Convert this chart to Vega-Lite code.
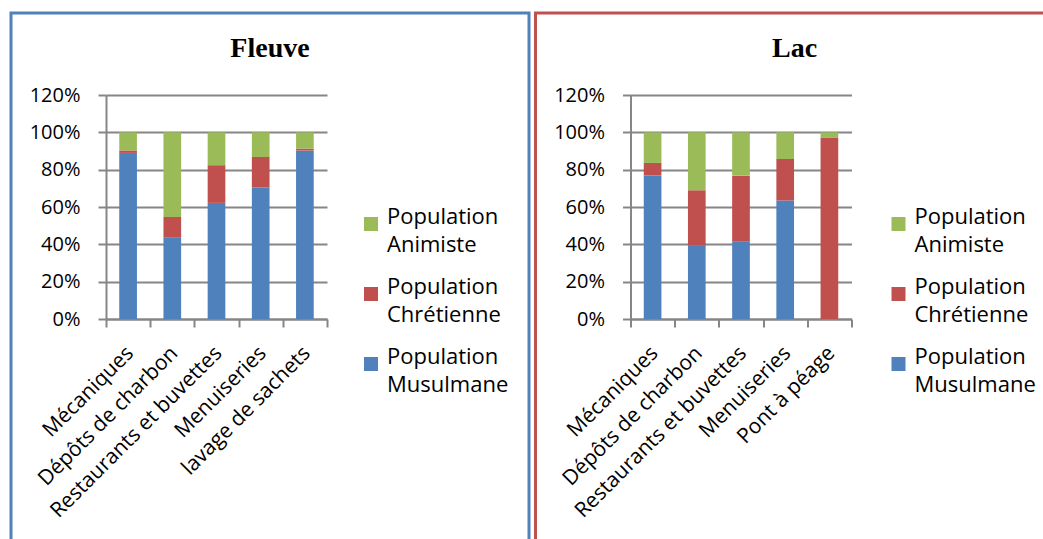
{
  "$schema": "https://vega.github.io/schema/vega-lite/v6.json",
  "padding": {"left": 9, "top": 11, "right": 0, "bottom": 0},
  "spacing": 2.5,
  "background": "white",
  "config": {
    "font": "Open Sans",
    "style": {"guide-label": {"lineHeight": 28}},
    "axis": {
      "domainColor": "#868686", "domainWidth": 2,
      "tickColor": "#868686", "tickWidth": 2,
      "gridColor": "#868686", "gridWidth": 2,
      "labelColor": "#000000", "labelFont": "Open Sans", "labelFontSize": 18,
      "title": null
    },
    "legend": {
      "labelFont": "Open Sans", "labelFontSize": 22, "labelColor": "#000000"
    }
  },
  "resolve": {"scale": {"color": "independent"}, "legend": {"color": "independent"}},
  "datasets": {
    "fleuve": [
      {"activite": "Mécaniques", "population": "Population Musulmane", "part": 0.89, "ordre": 1},
      {"activite": "Mécaniques", "population": "Population Chrétienne", "part": 0.013, "ordre": 2},
      {"activite": "Mécaniques", "population": "Population Animiste", "part": 0.097, "ordre": 3},
      {"activite": "Dépôts de charbon", "population": "Population Musulmane", "part": 0.435, "ordre": 1},
      {"activite": "Dépôts de charbon", "population": "Population Chrétienne", "part": 0.112, "ordre": 2},
      {"activite": "Dépôts de charbon", "population": "Population Animiste", "part": 0.453, "ordre": 3},
      {"activite": "Restaurants et buvettes", "population": "Population Musulmane", "part": 0.622, "ordre": 1},
      {"activite": "Restaurants et buvettes", "population": "Population Chrétienne", "part": 0.202, "ordre": 2},
      {"activite": "Restaurants et buvettes", "population": "Population Animiste", "part": 0.176, "ordre": 3},
      {"activite": "Menuiseries", "population": "Population Musulmane", "part": 0.704, "ordre": 1},
      {"activite": "Menuiseries", "population": "Population Chrétienne", "part": 0.164, "ordre": 2},
      {"activite": "Menuiseries", "population": "Population Animiste", "part": 0.132, "ordre": 3},
      {"activite": "lavage de sachets", "population": "Population Musulmane", "part": 0.902, "ordre": 1},
      {"activite": "lavage de sachets", "population": "Population Chrétienne", "part": 0.011, "ordre": 2},
      {"activite": "lavage de sachets", "population": "Population Animiste", "part": 0.087, "ordre": 3}
    ],
    "lac": [
      {"activite": "Mécaniques", "population": "Population Musulmane", "part": 0.768, "ordre": 1},
      {"activite": "Mécaniques", "population": "Population Chrétienne", "part": 0.068, "ordre": 2},
      {"activite": "Mécaniques", "population": "Population Animiste", "part": 0.164, "ordre": 3},
      {"activite": "Dépôts de charbon", "population": "Population Musulmane", "part": 0.392, "ordre": 1},
      {"activite": "Dépôts de charbon", "population": "Population Chrétienne", "part": 0.298, "ordre": 2},
      {"activite": "Dépôts de charbon", "population": "Population Animiste", "part": 0.31, "ordre": 3},
      {"activite": "Restaurants et buvettes", "population": "Population Musulmane", "part": 0.414, "ordre": 1},
      {"activite": "Restaurants et buvettes", "population": "Population Chrétienne", "part": 0.354, "ordre": 2},
      {"activite": "Restaurants et buvettes", "population": "Population Animiste", "part": 0.232, "ordre": 3},
      {"activite": "Menuiseries", "population": "Population Musulmane", "part": 0.635, "ordre": 1},
      {"activite": "Menuiseries", "population": "Population Chrétienne", "part": 0.222, "ordre": 2},
      {"activite": "Menuiseries", "population": "Population Animiste", "part": 0.143, "ordre": 3},
      {"activite": "Pont à péage", "population": "Population Musulmane", "part": 0, "ordre": 1},
      {"activite": "Pont à péage", "population": "Population Chrétienne", "part": 0.97, "ordre": 2},
      {"activite": "Pont à péage", "population": "Population Animiste", "part": 0.03, "ordre": 3}
    ]
  },
  "hconcat": [
    {
      "data": {"name": "fleuve"},
      "width": 518,
      "height": 540,
      "view": {"stroke": "#4f81bd", "strokeWidth": 3, "fill": "white"},
      "title": {"text": "Fleuve", "font": "Liberation Serif", "fontSize": 28, "fontWeight": "bold", "color": "#000000", "anchor": "middle", "frame": "group", "offset": -50},
      "mark": {"type": "bar", "width": {"band": 0.4}},
      "encoding": {
        "x": {
          "field": "activite", "type": "nominal", "sort": null,
          "scale": {"range": [95, 316], "paddingInner": 0, "paddingOuter": 0},
          "axis": {"offset": -234, "labelAngle": -45, "labelAlign": "right", "labelBaseline": "top", "tickBand": "extent", "tickSize": 8, "labelPadding": 15, "labelOffset": -6, "labelFontSize": 21, "labelLimit": 400}
        },
        "y": {
          "field": "part", "type": "quantitative", "stack": "zero",
          "scale": {"domain": [0, 1.2], "range": [306, 82], "nice": false},
          "axis": {"offset": -95, "values": [0, 0.2, 0.4, 0.6, 0.8, 1, 1.2], "format": ".0%", "grid": true, "tickSize": 8, "labelPadding": 18, "labelFontSize": 20}
        },
        "color": {
          "field": "population", "type": "nominal",
          "scale": {"domain": ["Population Animiste", "Population Chrétienne", "Population Musulmane"], "range": ["#9bbb59", "#c0504d", "#4f81bd"]},
          "legend": {"title": null, "orient": "none", "legendX": 349, "legendY": 200, "symbolType": "square", "symbolSize": 196, "symbolStrokeWidth": 0, "labelExpr": "split(datum.label, ' ')", "labelBaseline": "alphabetic", "rowPadding": 20, "labelOffset": 5, "padding": 0}
        },
        "order": {"field": "ordre", "type": "quantitative"}
      }
    },
    {
      "data": {"name": "lac"},
      "width": 518,
      "height": 540,
      "view": {"stroke": "#c0504d", "strokeWidth": 3, "fill": "white"},
      "title": {"text": "Lac", "font": "Liberation Serif", "fontSize": 28, "fontWeight": "bold", "color": "#000000", "anchor": "middle", "frame": "group", "offset": -50},
      "mark": {"type": "bar", "width": {"band": 0.4}},
      "encoding": {
        "x": {
          "field": "activite", "type": "nominal", "sort": null,
          "scale": {"range": [95, 316], "paddingInner": 0, "paddingOuter": 0},
          "axis": {"offset": -234, "labelAngle": -45, "labelAlign": "right", "labelBaseline": "top", "tickBand": "extent", "tickSize": 8, "labelPadding": 15, "labelOffset": -6, "labelFontSize": 21, "labelLimit": 400}
        },
        "y": {
          "field": "part", "type": "quantitative", "stack": "zero",
          "scale": {"domain": [0, 1.2], "range": [306, 82], "nice": false},
          "axis": {"offset": -95, "values": [0, 0.2, 0.4, 0.6, 0.8, 1, 1.2], "format": ".0%", "grid": true, "tickSize": 8, "labelPadding": 18, "labelFontSize": 20}
        },
        "color": {
          "field": "population", "type": "nominal",
          "scale": {"domain": ["Population Animiste", "Population Chrétienne", "Population Musulmane"], "range": ["#9bbb59", "#c0504d", "#4f81bd"]},
          "legend": {"title": null, "orient": "none", "legendX": 352, "legendY": 200, "symbolType": "square", "symbolSize": 196, "symbolStrokeWidth": 0, "labelExpr": "split(datum.label, ' ')", "labelBaseline": "alphabetic", "rowPadding": 20, "labelOffset": 5, "padding": 0}
        },
        "order": {"field": "ordre", "type": "quantitative"}
      }
    }
  ]
}
